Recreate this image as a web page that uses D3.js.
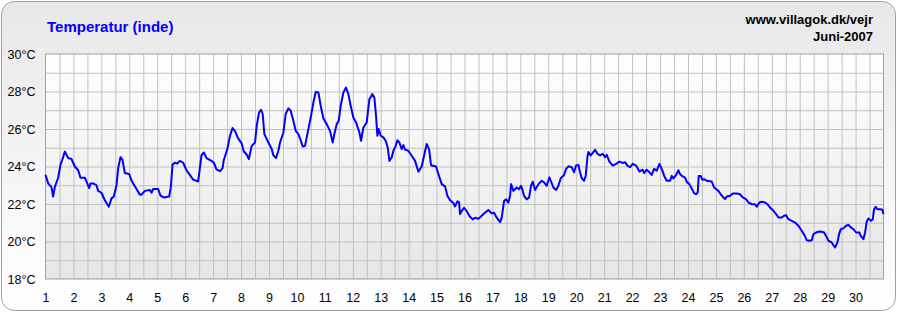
<!DOCTYPE html>
<html>
<head>
<meta charset="utf-8">
<script src="https://cdn.jsdelivr.net/npm/d3@7"></script>
<style>
  body { margin: 0; background: #fff; }
  svg { display: block; font-family: "Liberation Sans", Arial, sans-serif; }
</style>
</head>
<body>
<svg id="chart" width="897" height="312"></svg>
<script>
// readings: day of month (fractional) and indoor temperature
var days = [
  1.00,1.095,1.215,1.274,1.334,1.453,1.537,1.632,1.692,1.811,1.931,2.050,2.169,2.253,2.408,2.468,2.563,2.611,2.706,2.826,
  2.885,3.005,3.124,3.267,3.363,3.446,3.542,3.601,3.685,3.757,3.840,3.995,4.079,4.198,4.377,4.437,4.556,4.735,4.795,4.854,
  5.033,5.117,5.236,5.427,5.487,5.547,5.630,5.714,5.809,5.928,6.048,6.167,6.286,6.465,6.525,6.585,6.668,6.764,6.943,7.026,
  7.122,7.241,7.337,7.384,7.504,7.599,7.695,7.778,7.897,8.017,8.100,8.196,8.279,
  8.382,8.501,8.561,8.644,8.716,8.775,8.835,8.978,9.098,9.157,9.253,9.336,9.396,9.515,9.599,9.694,9.778,9.874,9.957,10.053,
  10.112,10.208,10.291,10.411,10.506,10.590,10.673,10.769,10.852,10.948,11.067,11.186,11.282,11.341,11.425,11.497,11.568,11.664,11.759,11.843,
  11.926,12.022,12.117,12.237,12.296,12.380,12.499,12.595,12.702,12.774,12.833,12.881,12.929,13.000,13.096,13.179,13.251,13.311,13.394,13.454,
  13.537,13.597,13.669,13.752,13.812,13.872,13.991,14.110,14.230,14.349,14.468,14.552,14.647,14.731,14.802,14.981,15.065,15.184,15.304,15.387,
  15.483,15.602,15.662,15.745,15.805,15.841,
  15.901,15.984,16.080,16.175,16.294,16.378,16.497,16.581,16.700,16.855,16.975,17.058,17.154,17.273,17.333,17.416,17.488,17.571,17.631,17.667,
  17.751,17.870,17.953,18.025,18.085,18.132,18.228,18.311,18.383,18.443,18.526,18.646,18.765,18.849,18.944,19.040,19.087,19.183,19.278,19.362,
  19.445,19.565,19.636,19.720,19.839,19.923,19.994,20.078,20.137,20.197,20.281,20.340,20.400,20.436,20.519,20.591,20.674,20.758,20.853,20.949,
  21.032,21.092,21.188,21.307,21.426,21.546,21.665,21.749,21.832,21.928,22.023,22.143,22.262,22.381,22.429,22.524,22.620,22.703,22.787,22.882,
  22.978,23.061,23.145,23.240,23.360,
  23.419,23.478,23.574,23.657,23.717,23.812,23.896,23.956,24.051,24.135,24.218,24.290,24.350,24.385,24.457,24.517,24.588,24.672,24.851,24.934,
  25.089,25.173,25.268,25.328,25.388,25.507,25.603,25.746,25.865,25.961,26.080,26.164,26.283,26.402,26.462,26.557,26.641,26.760,26.844,26.939,
  27.059,27.154,27.238,27.357,27.441,27.512,27.596,27.715,27.835,27.954,28.073,28.169,28.252,28.348,28.431,28.491,28.586,28.706,28.789,28.873,
  28.944,29.028,29.147,29.207,29.267,29.350,29.410,29.470,29.565,29.660,29.744,29.828,29.923,30.019,30.138,30.186,30.281,30.341,30.400,30.460,
  30.555,30.615,30.663,30.722,30.782,30.878,30.961,30.997
];
var temps = [
  23.56,23.1,22.9,22.4,22.9,23.4,24.1,24.5,24.8,24.45,24.4,24.0,23.8,23.4,23.4,23.2,22.85,23.1,23.1,23.0,
  22.7,22.6,22.2,21.85,22.3,22.4,23.0,23.9,24.5,24.35,23.65,23.6,23.25,22.95,22.5,22.5,22.7,22.75,22.6,22.8,
  22.8,22.45,22.35,22.4,22.9,24.1,24.2,24.15,24.3,24.2,23.8,23.55,23.3,23.2,23.9,24.6,24.75,24.45,24.3,24.2,
  23.85,23.75,23.9,24.35,24.9,25.6,26.05,25.9,25.5,25.25,24.8,24.65,24.4,
  25.1,25.28,26.17,26.88,27.02,26.8,25.73,25.28,24.93,24.6,24.45,24.84,25.28,25.8,26.8,27.1,26.97,26.44,25.9,25.73,
  25.5,25.07,25.1,26.0,26.7,27.41,27.98,27.95,27.24,26.56,26.26,25.9,25.28,25.73,26.26,26.44,27.24,27.95,28.21,27.86,
  27.24,26.6,26.35,25.82,25.37,26.08,26.35,27.59,27.86,27.68,26.7,25.64,26.0,25.64,25.55,25.37,25.02,24.3,24.48,24.84,
  25.1,25.4,25.28,24.93,25.14,24.9,24.84,24.57,24.3,23.72,24.0,24.57,25.2,24.93,24.07,24.0,23.6,23.06,22.94,22.44,
  22.2,22.05,21.87,22.14,22.1,21.46,
  21.62,21.8,21.62,21.36,21.18,21.27,21.21,21.32,21.5,21.68,21.5,21.53,21.27,21.03,21.27,22.16,22.25,22.07,22.43,23.06,
  22.7,22.88,22.79,22.97,22.7,22.43,22.25,22.34,22.97,23.19,22.75,23.06,23.24,23.15,22.97,23.42,23.24,22.88,22.75,22.97,
  23.37,23.55,23.87,24.01,23.96,23.69,24.05,24.08,23.69,23.37,23.24,23.51,24.5,24.77,24.59,24.73,24.89,24.68,24.59,24.68,
  24.5,24.62,24.26,24.05,24.14,24.26,24.19,24.23,24.05,23.96,24.14,24.05,23.73,23.83,23.65,23.83,23.69,23.55,23.87,23.78,
  24.14,23.87,23.51,23.24,23.24,
  23.5,23.36,23.54,23.8,23.59,23.47,23.41,23.18,23.06,22.83,22.58,22.52,22.61,23.5,23.5,23.29,23.32,23.24,23.2,22.88,
  22.7,22.52,22.35,22.26,22.4,22.44,22.56,22.56,22.52,22.35,22.26,22.08,21.99,21.99,21.85,22.08,22.12,22.08,21.99,21.81,
  21.64,21.46,21.28,21.28,21.37,21.4,21.19,21.1,21.01,20.84,20.57,20.34,20.07,20.04,20.07,20.39,20.48,20.53,20.52,20.48,
  20.3,20.04,19.95,19.8,19.68,19.95,20.39,20.66,20.7,20.84,20.89,20.75,20.66,20.48,20.48,20.3,20.12,20.48,21.07,21.23,
  21.1,21.19,21.72,21.85,21.72,21.72,21.69,21.46
];
var dayTicks = [1,2,3,4,5,6,7,8,9,10,11,12,13,14,15,16,17,18,19,20,21,22,23,24,25,26,27,28,29,30];
var tempTicks = [18,20,22,24,26,28,30];
var title = "Temperatur (inde)";
var siteText = "www.villagok.dk/vejr";
var monthText = "Juni-2007";

var svg = d3.select("#chart");
var plotLeft = 45.5, plotRight = 883.5, plotTop = 54, plotBottom = 279;

var x = d3.scaleLinear().domain([1, 31]).range([plotLeft, plotRight]);
var y = d3.scaleLinear().domain([18, 30]).range([plotBottom, plotTop]);

var defs = svg.append("defs");
var bg = defs.append("linearGradient").attr("id", "bg")
    .attr("x1", 0).attr("y1", 0).attr("x2", 0).attr("y2", 1);
bg.append("stop").attr("offset", "0%").attr("stop-color", "#e8e8e8");
bg.append("stop").attr("offset", "100%").attr("stop-color", "#ffffff");
var pg = defs.append("linearGradient").attr("id", "pg")
    .attr("x1", 0).attr("y1", 0).attr("x2", 0).attr("y2", 1);
pg.append("stop").attr("offset", "0%").attr("stop-color", "#ffffff");
pg.append("stop").attr("offset", "100%").attr("stop-color", "#e6e6e6");

// outer frame
svg.append("rect")
    .attr("x", 1.5).attr("y", 1.5)
    .attr("width", 894).attr("height", 309)
    .attr("rx", 13).attr("ry", 13)
    .attr("fill", "url(#bg)")
    .attr("stroke", "#a0a0a0");

// plot background
svg.append("rect")
    .attr("x", plotLeft).attr("y", plotTop)
    .attr("width", plotRight - plotLeft).attr("height", plotBottom - plotTop)
    .attr("fill", "url(#pg)");

// grid: every half day, every degree
var gridX = d3.axisBottom(x).tickValues(d3.range(1.5, 31, 0.5))
    .tickSize(-(plotBottom - plotTop)).tickFormat("");
svg.append("g").attr("transform", "translate(0," + plotBottom + ")").call(gridX)
    .call(function (g) { g.select(".domain").remove(); })
    .selectAll("line").attr("stroke", "#c0c0c0");

var gridY = d3.axisLeft(y).tickValues(d3.range(19, 30, 1))
    .tickSize(-(plotRight - plotLeft)).tickFormat("");
svg.append("g").attr("transform", "translate(" + plotLeft + ",0)").call(gridY)
    .call(function (g) { g.select(".domain").remove(); })
    .selectAll("line").attr("stroke", "#c0c0c0");

svg.append("rect")
    .attr("x", plotLeft).attr("y", plotTop)
    .attr("width", plotRight - plotLeft).attr("height", plotBottom - plotTop)
    .attr("fill", "none").attr("stroke", "#a0a0a0");

// axis labels
var yAxis = d3.axisLeft(y).tickValues(tempTicks).tickSize(0).tickPadding(10)
    .tickFormat(function (d) { return d + "°C"; });
svg.append("g").attr("transform", "translate(" + plotLeft + ",0)").call(yAxis)
    .call(function (g) { g.select(".domain").remove(); })
    .selectAll("text")
    .attr("font-family", "Liberation Sans, Arial, sans-serif")
    .attr("font-size", "12.5px").attr("fill", "#000");

var xAxis = d3.axisBottom(x).tickValues(dayTicks).tickSize(0).tickPadding(14);
svg.append("g").attr("transform", "translate(0," + plotBottom + ")").call(xAxis)
    .call(function (g) { g.select(".domain").remove(); })
    .selectAll("text")
    .attr("font-family", "Liberation Sans, Arial, sans-serif")
    .attr("font-size", "12.5px").attr("fill", "#000");

// the temperature line
var points = days.map(function (d, i) { return [d, temps[i]]; });
var line = d3.line()
    .x(function (d) { return x(d[0]); })
    .y(function (d) { return y(d[1]); });
svg.append("path")
    .datum(points)
    .attr("d", line)
    .attr("fill", "none")
    .attr("stroke", "#0000ff")
    .attr("stroke-width", 2)
    .attr("stroke-linejoin", "round");

// titles
svg.append("text")
    .attr("x", 47).attr("y", 32)
    .attr("font-size", "15px").attr("font-weight", "bold")
    .attr("fill", "#0000ff")
    .text(title);

svg.append("text")
    .attr("x", 873).attr("y", 24)
    .attr("text-anchor", "end")
    .attr("font-size", "13px").attr("font-weight", "bold")
    .attr("fill", "#000")
    .text(siteText);

svg.append("text")
    .attr("x", 873).attr("y", 41)
    .attr("text-anchor", "end")
    .attr("font-size", "13px").attr("font-weight", "bold")
    .attr("fill", "#000")
    .text(monthText);
</script>
</body>
</html>
